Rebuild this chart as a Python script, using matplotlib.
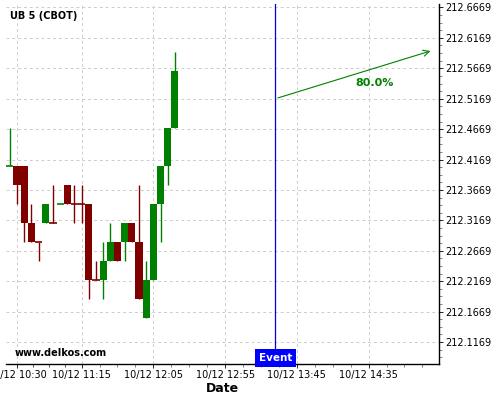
import matplotlib
matplotlib.use("Agg")
import matplotlib.pyplot as plt
from matplotlib.ticker import FixedLocator, FixedFormatter

# 5 minute candles, time in minutes after 10:30
times = [-5, 0, 5, 10, 15, 20, 25, 30, 35, 40, 45, 50, 55, 60, 65, 70, 75, 80, 85, 90, 95, 100, 105, 110]
opens = [212.40625, 212.40625, 212.40625, 212.3125, 212.28125, 212.3125, 212.3125, 212.34375,
         212.375, 212.34375, 212.34375, 212.34375, 212.21875, 212.21875, 212.25, 212.28125,
         212.28125, 212.3125, 212.28125, 212.15625, 212.21875, 212.34375, 212.40625, 212.46875]
highs = [212.46875, 212.40625, 212.40625, 212.34375, 212.28125, 212.34375, 212.375, 212.34375,
         212.375, 212.375, 212.375, 212.34375, 212.25, 212.28125, 212.3125, 212.28125,
         212.3125, 212.3125, 212.375, 212.25, 212.34375, 212.40625, 212.46875, 212.59375]
lows = [212.40625, 212.34375, 212.28125, 212.28125, 212.25, 212.3125, 212.3125, 212.34375,
        212.34375, 212.3125, 212.3125, 212.1875, 212.21875, 212.1875, 212.25, 212.25,
        212.25, 212.28125, 212.1875, 212.15625, 212.21875, 212.28125, 212.375, 212.46875]
closes = [212.40625, 212.375, 212.3125, 212.28125, 212.28125, 212.34375, 212.3125, 212.34375,
          212.34375, 212.34375, 212.34375, 212.21875, 212.21875, 212.25, 212.28125, 212.25,
          212.3125, 212.28125, 212.1875, 212.21875, 212.34375, 212.40625, 212.46875, 212.5625]

xtick_pos = [0, 45, 95, 145, 195, 245]
xtick_labels = ["10/12 10:30", "10/12 11:15", "10/12 12:05", "10/12 12:55", "10/12 13:45", "10/12 14:35"]
yticks = [212.1169 + 0.05 * k for k in range(12)]

event_time = 180          # 13:30
arrow_start = (180, 212.5169)
arrow_end = (290, 212.5967)
prob_text = "80.0%"
prob_pos = (249, 212.543)

RED = "#800000"
GREEN = "#008000"

fig = plt.figure(figsize=(5, 4), dpi=100)
ax = fig.add_axes([0.012, 0.09, 0.8666, 0.90])

for i in range(len(times)):
    t = times[i]
    o, h, l, c = opens[i], highs[i], lows[i], closes[i]
    if c > o:
        col = GREEN
    elif c < o:
        col = RED
    else:
        col = GREEN if (i == 0 or c > closes[i - 1]) else RED
    ax.vlines(t, l, h, color=col, lw=1.0, zorder=2)
    if c == o:
        ax.hlines(o, t - 2.5, t + 2.5, color=col, lw=1.2, zorder=3)
    else:
        ax.bar(t, abs(c - o), bottom=min(o, c), width=5, color=col, lw=0, zorder=3)

ax.axvline(event_time, color="#0000dd", lw=0.9, zorder=4)
ax.annotate("", xy=arrow_end, xytext=arrow_start,
            arrowprops=dict(arrowstyle="->", color=GREEN, lw=0.8, mutation_scale=11))
ax.text(prob_pos[0], prob_pos[1], prob_text, color=GREEN, fontsize=8, fontweight="bold",
        ha="center", va="center")

ax.text(event_time, 0.003, "Event", transform=ax.get_xaxis_transform(), color="white",
        fontsize=7.5, fontweight="bold", ha="center", va="bottom",
        bbox=dict(boxstyle="square,pad=0.35", fc="#0000ff", ec="none"), zorder=6)
ax.text(0.02, 0.03, "www.delkos.com", transform=ax.transAxes, fontsize=7, fontweight="bold",
        ha="left", va="center")
ax.text(0.01, 0.968, "UB 5 (CBOT)", transform=ax.transAxes, fontsize=7, fontweight="bold",
        ha="left", va="center")

ax.set_xlim(-7.7, 294.3)
ax.set_ylim(212.0809, 212.6726)

ax.yaxis.tick_right()
ax.yaxis.set_major_locator(FixedLocator(yticks))
ax.yaxis.set_major_formatter(FixedFormatter(["%.4f" % v for v in yticks]))
ax.yaxis.set_minor_locator(FixedLocator([212.1169 + 0.0125 * k for k in range(-2, 45)]))

ax.xaxis.set_major_locator(FixedLocator(xtick_pos))
ax.xaxis.set_major_formatter(FixedFormatter(xtick_labels))
minors = [11.25, 22.5, 33.75]
for k in range(len(xtick_pos) - 1):
    a, b = xtick_pos[k], xtick_pos[k + 1]
    minors += [a + (b - a) * j / 4 for j in (1, 2, 3)]
minors += [245 + 12.5 * j for j in (1, 2, 3, 4)]
ax.xaxis.set_minor_locator(FixedLocator(minors))

ax.tick_params(axis="both", which="major", labelsize=7, length=3, width=0.6, pad=1)
ax.tick_params(axis="both", which="minor", length=2, width=0.5, color="#555555")

ax.grid(True, which="major", ls=(0, (3, 3)), color="#cccccc", lw=0.7)
ax.set_axisbelow(True)
for s in ["top", "left"]:
    ax.spines[s].set_visible(False)
ax.spines["right"].set_linewidth(1)
ax.spines["bottom"].set_linewidth(1)

ax.set_xlabel("Date", fontsize=9, fontweight="bold", labelpad=2)

fig.savefig("out.png", dpi=100)
